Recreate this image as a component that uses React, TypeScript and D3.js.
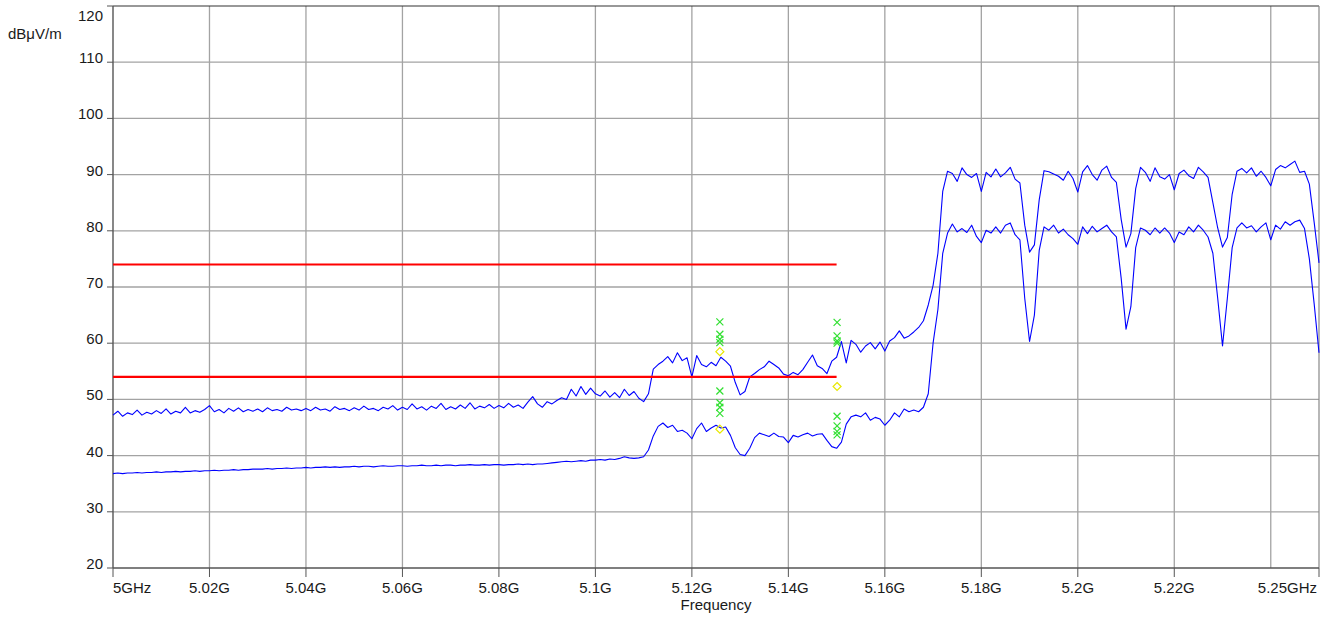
import * as d3 from 'd3'

// sweep: 5.000 .. 5.250 GHz, 1 MHz per point
const FREQ_GHZ = d3.range(251).map(i => +(5 + i * 0.001).toFixed(3))

// upper trace (peak detector), dBµV/m
const PEAK = [
  47.2, 47.9, 47.0, 47.6, 47.3, 48.1, 47.2, 47.7, 47.4, 48.0,
  47.5, 48.3, 47.4, 47.9, 47.6, 48.6, 47.6, 48.0, 47.7, 48.2,
  48.9, 47.8, 48.2, 47.6, 48.4, 47.9, 48.5, 47.8, 48.2, 47.9,
  48.3, 47.8, 48.5, 48.0, 48.2, 47.9, 48.6, 48.1, 48.3, 48.0,
  48.4, 48.0, 48.6, 48.1, 48.3, 47.9, 48.7, 48.2, 48.4, 48.0,
  48.5, 48.1, 48.8, 48.2, 48.4, 48.0, 48.6, 48.3, 48.9, 48.1,
  48.6, 48.2, 49.2, 48.3, 48.7, 48.1, 48.8, 48.4, 49.3, 48.2,
  48.7, 48.3, 49.0, 48.4, 49.4, 48.3, 48.8, 48.5, 49.1, 48.4,
  48.9, 48.5, 49.3, 48.6, 49.0, 48.4, 49.5, 50.5, 49.2, 48.6,
  49.6, 49.2, 49.8, 50.3, 50.0, 51.8, 50.6, 52.3, 50.9, 52.0,
  51.0, 50.6, 51.5, 50.4, 51.2, 50.3, 51.8, 50.7, 51.4, 50.2,
  49.6, 51.0, 55.4, 56.2, 56.8, 57.6, 56.5, 58.3, 56.9, 57.4,
  54.0, 57.8, 56.2, 55.8, 56.6, 56.0, 57.5, 56.8, 55.9, 53.0,
  50.8, 51.4, 54.0, 54.6, 55.3, 55.8, 56.8, 56.2, 55.6, 54.5,
  54.2, 54.8, 54.4, 55.3, 56.6, 57.9, 56.0, 55.5, 54.6, 56.8,
  57.5, 60.3, 56.5, 60.5, 59.8, 58.4, 59.5, 60.1, 59.0, 60.2,
  58.6, 60.4, 61.0, 62.2, 60.9, 61.3, 62.0, 62.8, 64.0, 66.8,
  70.3, 76.0, 87.0, 90.6, 90.2, 88.8, 91.2, 90.0, 89.5, 90.2,
  87.0, 90.4, 89.6, 91.0, 89.6, 90.3, 91.3, 89.2, 88.5, 81.0,
  76.2, 77.5, 85.5, 90.7, 90.5, 90.1, 89.7, 89.0, 90.6, 89.3,
  86.9, 90.5, 91.6, 90.0, 89.0, 90.8, 91.5, 89.5, 88.6, 82.0,
  77.1, 79.5, 87.5, 91.3, 90.4, 88.8, 91.2, 89.6, 89.2, 90.0,
  87.3, 90.2, 90.8, 89.8, 89.3, 91.3, 90.5, 89.5, 85.0, 80.5,
  77.1, 78.8, 86.5, 90.6, 91.1, 90.3, 91.2, 89.7, 90.6, 89.5,
  88.0, 90.9, 91.6, 91.2, 91.8, 92.4, 90.4, 90.6, 88.3, 81.5,
  74.3,
]

// lower trace (average detector), dBµV/m
const AVERAGE = [
  36.8, 36.9, 36.8, 36.9, 36.9, 37.0, 36.9, 37.0, 37.0, 37.1,
  37.0, 37.1, 37.1, 37.2, 37.1, 37.2, 37.2, 37.3, 37.2, 37.3,
  37.3, 37.4, 37.3, 37.4, 37.4, 37.5, 37.4, 37.5, 37.5, 37.6,
  37.6, 37.6, 37.7, 37.6, 37.7, 37.7, 37.8, 37.7, 37.8, 37.8,
  37.9, 37.8, 37.9, 37.9, 38.0, 37.9, 38.0, 37.9, 38.0, 38.0,
  38.1, 38.0, 38.1, 38.1, 38.0, 38.1, 38.2, 38.1, 38.1, 38.2,
  38.2, 38.1, 38.2, 38.2, 38.3, 38.2, 38.2, 38.3, 38.2, 38.3,
  38.3, 38.2, 38.3, 38.3, 38.4, 38.3, 38.3, 38.4, 38.3, 38.4,
  38.4, 38.3, 38.4, 38.4, 38.5, 38.4, 38.5, 38.4, 38.5, 38.5,
  38.6, 38.7, 38.8, 38.9, 39.0, 38.9, 39.0, 39.1, 39.0, 39.2,
  39.2, 39.3, 39.2, 39.4, 39.3, 39.5, 39.8, 39.6, 39.5, 39.6,
  39.8, 41.0, 43.5, 45.2, 45.8, 45.0, 45.4, 44.3, 44.5, 44.0,
  43.0, 44.8, 45.8, 44.3, 44.9, 45.4, 44.9, 45.1, 43.6, 41.4,
  40.2, 40.0, 41.3, 43.2, 44.0, 43.7, 43.4, 44.0, 43.4, 43.3,
  42.3, 43.6, 43.3, 43.7, 44.0, 43.5, 43.8, 43.9, 42.7, 41.6,
  41.3, 42.4, 45.6, 46.9, 47.2, 46.9, 47.6, 46.3, 46.8, 46.5,
  45.4, 46.3, 47.6, 46.9, 48.3, 47.8, 48.1, 47.8, 48.6, 51.0,
  60.0, 66.0, 76.0, 79.6, 81.2, 79.8, 80.4, 79.7, 81.0, 79.0,
  77.9, 80.1, 79.6, 80.7, 79.6, 81.0, 81.4, 79.3, 78.4, 68.0,
  60.3, 65.0, 76.5, 80.7, 80.1, 81.0, 79.6, 80.3, 79.3, 78.6,
  77.6, 80.7, 79.5, 80.8, 79.8, 80.4, 81.0, 79.8, 78.9, 71.5,
  62.5, 66.5, 77.0, 80.5, 80.1, 79.3, 80.5, 79.6, 80.5, 79.6,
  77.9, 79.8, 79.3, 80.7, 79.8, 81.0, 80.1, 78.9, 76.0, 68.0,
  59.5, 68.0, 77.0, 80.5, 81.4, 80.5, 80.9, 79.8, 80.7, 81.4,
  78.4, 81.0, 80.3, 81.6, 81.0, 81.6, 81.9, 80.4, 75.0, 67.0,
  58.3,
]

// limit lines (peak / average), drawn up to 5.15 GHz
const LIMIT_LEVELS = [74, 54]
const LIMIT_RANGE = [5.0, 5.15]

// measured points
const CROSS_FREQS = [5.1258, 5.1258, 5.1258, 5.1258, 5.1258, 5.1258, 5.1258, 5.1258, 5.1501, 5.1501, 5.1501, 5.1501, 5.1501, 5.1501, 5.1501, 5.1501]
const CROSS_LEVELS = [63.8, 61.6, 60.7, 60.1, 51.5, 49.4, 48.6, 47.5, 63.7, 61.3, 60.4, 60.0, 47.0, 45.3, 44.3, 43.7]
const DIAMOND_FREQS = [5.1258, 5.1258, 5.1501]
const DIAMOND_LEVELS = [58.5, 44.7, 52.3]

const Y_TICKS = [20, 30, 40, 50, 60, 70, 80, 90, 100, 110, 120]
const X_TICKS = [5.0, 5.02, 5.04, 5.06, 5.08, 5.1, 5.12, 5.14, 5.16, 5.18, 5.2, 5.22, 5.24, 5.25]
const X_LABELS = ['5GHz', '5.02G', '5.04G', '5.06G', '5.08G', '5.1G', '5.12G', '5.14G', '5.16G', '5.18G', '5.2G', '5.22G', '', '5.25GHz']

const width = 1334
const height = 618
const plot = { left: 113, right: 1319, top: 6, bottom: 568 }
const font = '"Liberation Sans", Arial, sans-serif'

export default function App() {
  const x = d3.scaleLinear().domain([5.0, 5.25]).range([plot.left, plot.right])
  const y = d3.scaleLinear().domain([20, 120]).range([plot.bottom, plot.top])

  const line = d3
    .line<number>()
    .x((_, i) => x(FREQ_GHZ[i]))
    .y(v => y(v))

  return (
    <svg
      width={width}
      height={height}
      style={{ position: 'absolute', left: 0, top: 0, background: '#fff' }}
      fontFamily={font}
    >
      {/* grid */}
      {Y_TICKS.filter(t => t > 20 && t < 120).map(t => (
        <line key={`gy${t}`} x1={plot.left} x2={plot.right} y1={y(t)} y2={y(t)} stroke="#a3a3a3" strokeWidth={1.3} />
      ))}
      {X_TICKS.filter(t => t > 5.0 && t < 5.25).map(t => (
        <line key={`gx${t}`} x1={x(t)} x2={x(t)} y1={plot.top} y2={plot.bottom} stroke="#a3a3a3" strokeWidth={1.3} />
      ))}

      {/* frame */}
      <line x1={plot.left} x2={plot.right} y1={plot.top} y2={plot.top} stroke="#333" strokeWidth={1.2} />
      <line x1={plot.right} x2={plot.right} y1={plot.top} y2={plot.bottom} stroke="#888" strokeWidth={1.2} />
      <line x1={plot.left} x2={plot.left} y1={plot.top} y2={plot.bottom} stroke="#555" strokeWidth={1.4} />
      <line x1={plot.left} x2={plot.right} y1={plot.bottom} y2={plot.bottom} stroke="#555" strokeWidth={1.4} />

      {/* y ticks + labels */}
      {Y_TICKS.map(t => (
        <g key={`ty${t}`}>
          <line x1={plot.left - 6} x2={plot.left} y1={y(t)} y2={y(t)} stroke="#555" />
          <text x={103} y={t === 120 ? y(t) + 15 : y(t) + 1} textAnchor="end" fontSize={15} fill="#1a1a1a">
            {t}
          </text>
        </g>
      ))}
      <text x={8} y={39} fontSize={15} fill="#1a1a1a">dBμV/m</text>

      {/* x ticks + labels */}
      {X_TICKS.map((t, i) =>
        X_LABELS[i] === '' ? null : (
          <g key={`tx${t}`}>
            <line x1={x(t)} x2={x(t)} y1={plot.bottom} y2={plot.bottom + 9} stroke="#555" />
            <text
              x={i === X_TICKS.length - 1 ? x(t) - 2 : x(t)}
              y={593}
              textAnchor={i === 0 ? 'start' : i === X_TICKS.length - 1 ? 'end' : 'middle'}
              fontSize={15}
              fill="#1a1a1a"
            >
              {X_LABELS[i]}
            </text>
          </g>
        ),
      )}
      <text x={(plot.left + plot.right) / 2} y={610} textAnchor="middle" fontSize={15} fill="#1a1a1a">
        Frequency
      </text>

      {/* traces */}
      <path d={line(AVERAGE) ?? ''} fill="none" stroke="#0000ff" strokeWidth={1.1} strokeLinejoin="round" />
      <path d={line(PEAK) ?? ''} fill="none" stroke="#0000ff" strokeWidth={1.1} strokeLinejoin="round" />

      {/* limits */}
      {LIMIT_LEVELS.map(l => (
        <line key={`lim${l}`} x1={x(LIMIT_RANGE[0])} x2={x(LIMIT_RANGE[1])} y1={y(l)} y2={y(l)} stroke="#ff0000" strokeWidth={2.2} />
      ))}

      {/* markers */}
      {CROSS_FREQS.map((f, i) => (
        <path
          key={`c${i}`}
          transform={`translate(${x(f)},${y(CROSS_LEVELS[i])})`}
          d="M-3.5,-3.5L3.5,3.5M-3.5,3.5L3.5,-3.5"
          stroke="#33e033"
          strokeWidth={1.2}
          fill="none"
        />
      ))}
      {DIAMOND_FREQS.map((f, i) => (
        <path
          key={`d${i}`}
          transform={`translate(${x(f)},${y(DIAMOND_LEVELS[i])})`}
          d="M0,-4L4,0L0,4L-4,0Z"
          stroke="#e8e800"
          strokeWidth={1.2}
          fill="none"
        />
      ))}
    </svg>
  )
}
